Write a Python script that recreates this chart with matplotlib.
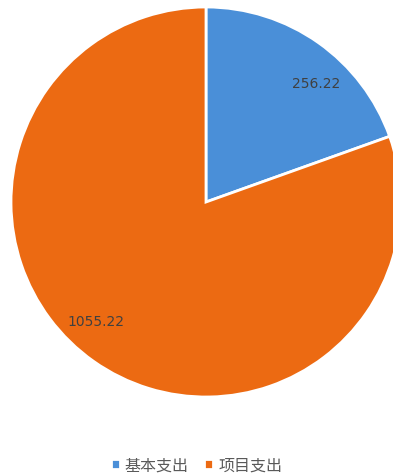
import numpy as np
import matplotlib.pyplot as plt

plt.rcParams['font.family'] = ['Noto Sans CJK SC', 'DejaVu Sans']

# data
categories = ['基本支出', '项目支出']
values = [256.22, 1055.22]
colors = ['#4A8FD8', '#EC6A12']

W, H = 393, 477
cx, cy, r = 206, 203, 195  # pie centre/radius in pixels

fig = plt.figure(figsize=(W / 100, H / 100), dpi=100)
ax = fig.add_axes([0, 0, 1, 1])

wedges, _ = ax.pie(values, colors=colors, startangle=90, counterclock=False,
                   wedgeprops=dict(edgecolor='white', linewidth=2))

# value labels, slightly rotated clockwise from the wedge middle
for w, v in zip(wedges, values):
    ang = np.deg2rad((w.theta1 + w.theta2) / 2 - 7.5)
    ax.text(0.83 * np.cos(ang), 0.83 * np.sin(ang), f'{v:.2f}',
            ha='center', va='center', fontsize=10, color='#404040',
            family=['DejaVu Sans'])

ax.set_xlim(-cx / r, (W - cx) / r)
ax.set_ylim(-(H - cy) / r, cy / r)
ax.set_aspect('equal')
ax.axis('off')

leg = fig.legend(wedges, categories, loc='center', bbox_to_anchor=(0.5, 1 - 466 / H),
                 ncol=2, frameon=False, fontsize=11.5, handlelength=0.55, handleheight=0.55,
                 handletextpad=0.3, columnspacing=1.0)
for t in leg.get_texts():
    t.set_color('#595959')

fig.savefig('out.png', dpi=100)
